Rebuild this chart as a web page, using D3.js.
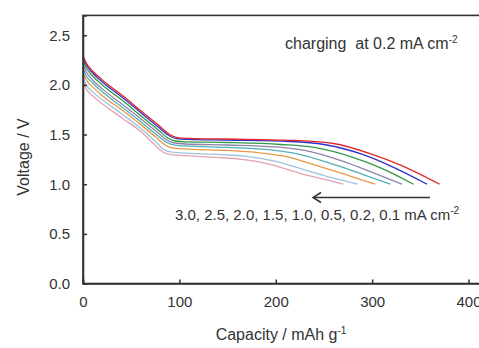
<!DOCTYPE html>
<html>
<head>
<meta charset="utf-8">
<script src="https://cdn.jsdelivr.net/npm/d3@7"></script>
<style>
  body { margin: 0; background: #fff; }
  svg { display: block; font-family: "Liberation Sans", Arial, sans-serif; }
</style>
</head>
<body>
<div id="chart"></div>
<script>
// discharge rates, mA cm-2 (top curve = lowest rate)
const rates = ["0.1", "0.2", "0.5", "1.0", "1.5", "2.0", "2.5", "3.0"];
const lineColors = ["#e3262b", "#3131c8", "#2f9a45", "#8e83a8", "#55aebb", "#e59a45", "#9fc3e0", "#e2a3b3"];

// [capacity mAh/g, voltage V]
const curve01 = [[0,2.29],[4,2.21],[10,2.14],[20,2.05],[40,1.90],[60,1.74],[80,1.58],[90,1.50],[98,1.47],[110,1.462],[150,1.455],[220,1.44],[260,1.41],[300,1.30],[330,1.19],[370,1.00]];
const curve02 = [[0,2.27],[4,2.19],[10,2.12],[20,2.03],[40,1.88],[60,1.72],[80,1.56],[89,1.49],[97,1.46],[109,1.452],[150,1.445],[215,1.43],[250,1.40],[290,1.30],[320,1.18],[357,1.00]];
const curve05 = [[0,2.24],[4,2.16],[10,2.09],[20,2.00],[40,1.85],[60,1.69],[80,1.53],[88,1.465],[96,1.435],[108,1.427],[150,1.42],[205,1.40],[240,1.37],[280,1.27],[310,1.16],[343,1.00]];
const curve10 = [[0,2.20],[4,2.12],[10,2.05],[20,1.96],[40,1.81],[60,1.66],[80,1.50],[87,1.445],[95,1.415],[106,1.405],[150,1.395],[200,1.375],[230,1.34],[270,1.23],[300,1.12],[331,1.00]];
const curve15 = [[0,2.16],[4,2.08],[10,2.02],[20,1.93],[40,1.78],[60,1.63],[78,1.485],[86,1.425],[94,1.395],[105,1.385],[150,1.37],[190,1.35],[220,1.31],[260,1.20],[290,1.10],[319,1.00]];
const curve20 = [[0,2.12],[4,2.04],[10,1.98],[20,1.89],[40,1.75],[60,1.60],[76,1.47],[85,1.395],[93,1.365],[104,1.355],[150,1.34],[180,1.32],[210,1.28],[245,1.18],[275,1.09],[303,1.00]];
const curve25 = [[0,2.07],[4,1.99],[10,1.93],[20,1.85],[40,1.71],[60,1.56],[74,1.44],[83,1.355],[91,1.325],[102,1.315],[140,1.30],[170,1.28],[200,1.23],[235,1.13],[260,1.06],[285,1.00]];
const curve30 = [[0,2.03],[4,1.95],[10,1.89],[20,1.81],[40,1.67],[60,1.53],[73,1.41],[82,1.33],[90,1.30],[101,1.29],[140,1.27],[165,1.25],[190,1.21],[225,1.11],[250,1.05],[270,1.00]];
const curves = [curve01, curve02, curve05, curve10, curve15, curve20, curve25, curve30];

const xTicks = [0, 100, 200, 300, 400];
const yTicks = [0, 0.5, 1.0, 1.5, 2.0, 2.5];

const width = 479, height = 348;
const svg = d3.select("#chart").append("svg")
    .attr("width", width)
    .attr("height", height);

const x = d3.scaleLinear().domain([0, 415]).range([83, 483]);
const y = d3.scaleLinear().domain([0, 2.7]).range([283.5, 15.4]);
const ink = "#333";

// frame
svg.append("rect")
    .attr("x", x(0)).attr("y", y(2.7))
    .attr("width", x(415) - x(0)).attr("height", y(0) - y(2.7))
    .attr("fill", "none").attr("stroke", ink).attr("stroke-width", 1.6);

const line = d3.line()
    .x(d => x(d[0]))
    .y(d => y(d[1]))
    .curve(d3.curveMonotoneX);

svg.selectAll(".curve")
    .data(curves.slice().reverse())
    .enter().append("path")
    .attr("class", "curve")
    .attr("fill", "none")
    .attr("stroke", (d, i) => lineColors[curves.length - 1 - i])
    .attr("stroke-width", 1.3)
    .attr("d", line);

// axes (inward ticks)
const xAxis = svg.append("g")
    .attr("transform", `translate(0,${y(0)})`)
    .call(d3.axisBottom(x).tickValues(xTicks).tickSize(-4).tickPadding(13).tickFormat(d3.format("d")));
const yAxis = svg.append("g")
    .attr("transform", `translate(${x(0)},0)`)
    .call(d3.axisLeft(y).tickValues(yTicks).tickSize(-4).tickPadding(13).tickFormat(d3.format(".1f")));

[xAxis, yAxis].forEach(g => {
    g.select(".domain").attr("stroke", ink).attr("stroke-width", 1.6);
    g.selectAll(".tick line").attr("stroke", ink).attr("stroke-width", 1.5);
    g.selectAll(".tick text").attr("fill", ink).style("font-size", "15px");
});

// axis titles
const xTitle = svg.append("text")
    .attr("x", 281).attr("y", 340)
    .attr("text-anchor", "middle")
    .attr("fill", ink).style("font-size", "16px");
xTitle.append("tspan").text("Capacity / mAh g");
xTitle.append("tspan").attr("dy", -6).style("font-size", "10px").text("-1");

svg.append("text")
    .attr("transform", "translate(29,157) rotate(-90)")
    .attr("text-anchor", "middle")
    .attr("fill", ink).style("font-size", "16px")
    .text("Voltage / V");

// annotations
const note = svg.append("text")
    .attr("x", 285).attr("y", 49)
    .attr("xml:space", "preserve")
    .attr("fill", ink).style("font-size", "16px");
note.append("tspan").text("charging  at 0.2 mA cm");
note.append("tspan").attr("dy", -6).style("font-size", "10px").text("-2");

const rateLabel = svg.append("text")
    .attr("x", 175).attr("y", 220)
    .attr("fill", ink).style("font-size", "15px");
rateLabel.append("tspan").text(rates.slice().reverse().join(", ") + " mA cm");
rateLabel.append("tspan").attr("dy", -6).style("font-size", "10px").text("-2");

// arrow
svg.append("line")
    .attr("x1", 430).attr("y1", 197.5)
    .attr("x2", 313).attr("y2", 197.5)
    .attr("stroke", ink).attr("stroke-width", 1.5);
svg.append("path")
    .attr("d", "M321,192.5 L313,197.5 L321,202.5")
    .attr("fill", "none").attr("stroke", ink).attr("stroke-width", 1.5);
</script>
</body>
</html>
